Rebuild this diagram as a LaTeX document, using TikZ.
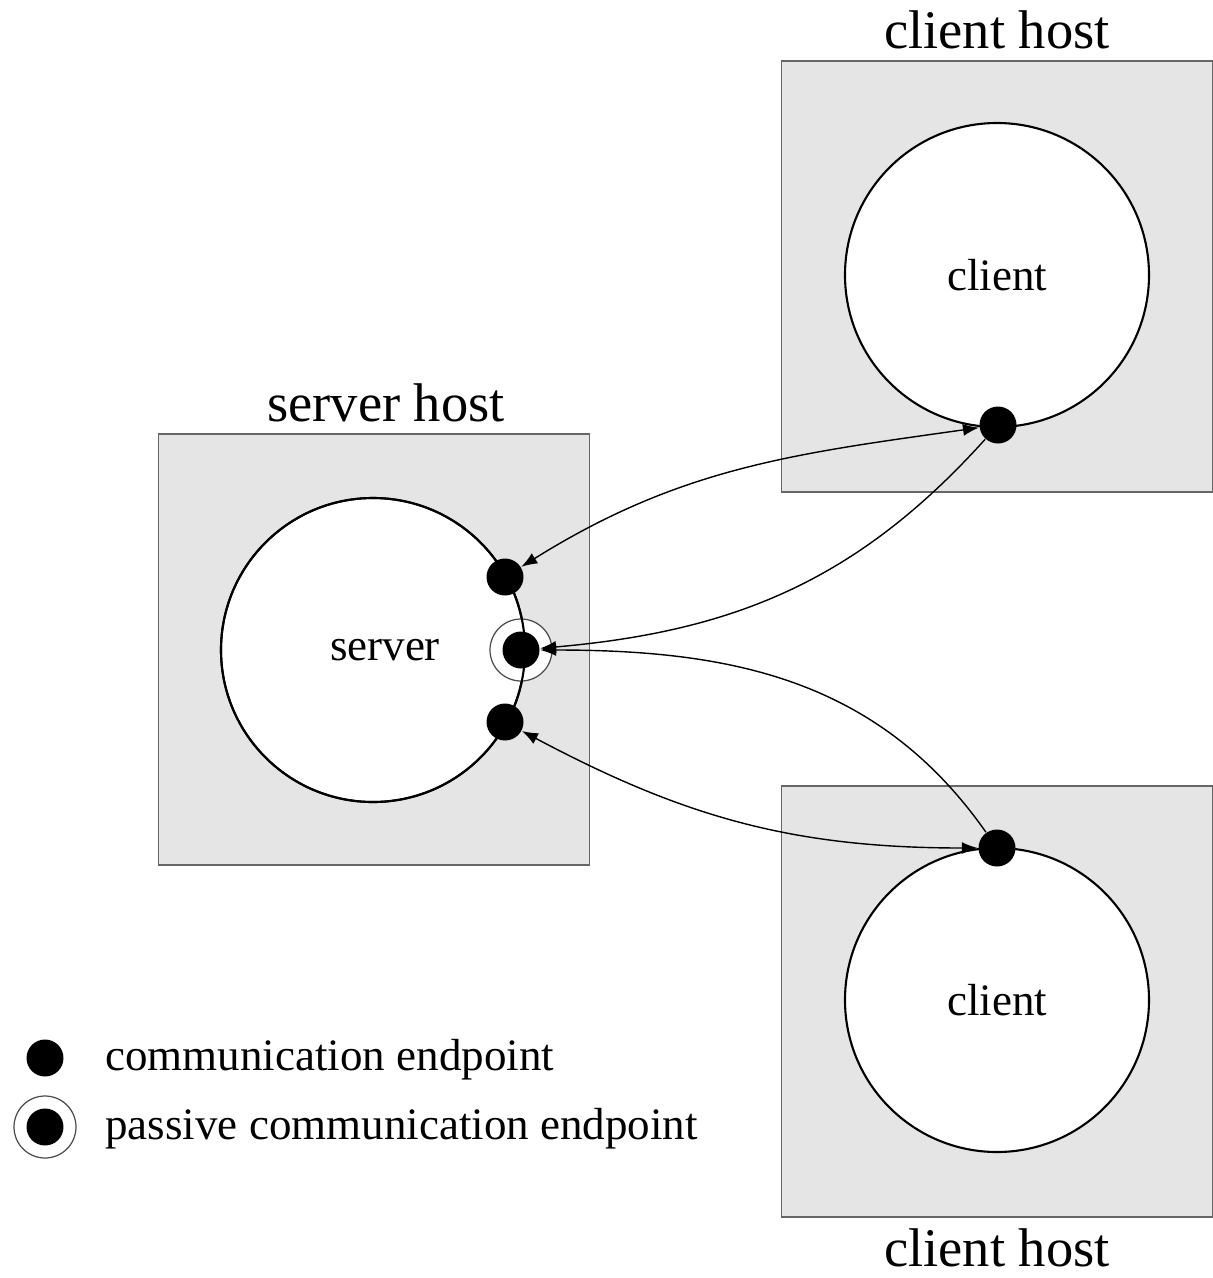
\documentclass[tikz,border=0pt]{standalone}
\usepackage{fontspec}
\setmainfont{Liberation Serif}
\usetikzlibrary{positioning,arrows.meta}

\begin{document}
\begin{tikzpicture}[font=\fontsize{12.8}{15}\selectfont,
  host/.style={draw=black!60,line width=0.3pt,fill=black!10,minimum size=4.31cm,inner sep=0pt},
  proc/.style={circle,draw,line width=0.6pt,fill=white,minimum size=3.04cm,inner sep=0pt},
  ep/.style={circle,fill=black,minimum size=0.37cm,inner sep=0pt},
  ring/.style={circle,draw=black!70,line width=0.35pt,fill=white,minimum size=0.62cm,inner sep=0pt},
  hostlbl/.style={font=\fontsize{15.5}{18}\selectfont,inner sep=1pt},
  link/.style={line width=0.4pt,-{Latex[length=1.6mm,width=1.2mm]}},
  dlink/.style={line width=0.4pt,{Latex[length=1.6mm,width=1.2mm]}-{Latex[length=1.6mm,width=1.2mm]}}]
\useasboundingbox (0,0) rectangle (12.13,-12.78);

% --- hosts ---
\node[host] (sh) at (3.74,-6.495) {};
\node[host] (th) at (9.97,-2.765) {};
\node[host] (bh) at (9.97,-10.015) {};
\node[hostlbl,above=2pt of sh,xshift=0.12cm] (shl) {server host};
\node[hostlbl,above=2pt of th] (thl) {client host};
\node[hostlbl,below=2pt of bh] (bhl) {client host};

% --- processes ---
\node[proc] (srv) at (3.73,-6.50) {};
\node (srvl) at (3.85,-6.50) {server};
\node[ring] (pr) at (5.21,-6.50) {};
\draw[line width=0.6pt] (srv.center) circle (1.52);
\node[proc] (ct) at (9.97,-2.75) {client};
\node[proc] (cb) at (9.97,-10.00) {client};

% --- endpoints ---
\node[ep] (su) at (5.05,-5.77) {};
\node[ep] (sm) at (5.21,-6.50) {};
\node[ep] (sl) at (5.05,-7.22) {};
\node[ep] (et) at (9.98,-4.25) {};
\node[ep] (eb) at (9.97,-8.48) {};

% --- connections ---
\draw[dlink] (su) to[out=32,in=188] (et);
\draw[link] (et) to[out=-132,in=5] (sm);
\draw[link] (eb) to[out=125,in=0] (sm);
\draw[dlink] (sl) to[out=-28,in=180] (eb);

% --- legend ---
\node[ep] (le1) at (0.45,-10.58) {};
\node[ring] (lr2) at (0.45,-11.27) {};
\node[ep] (le2) at (0.45,-11.27) {};
\node[anchor=west] (lt1) at (0.93,-10.60) {communication endpoint};
\node[anchor=west] (lt2) at (0.93,-11.29) {passive communication endpoint};
\end{tikzpicture}
\end{document}
